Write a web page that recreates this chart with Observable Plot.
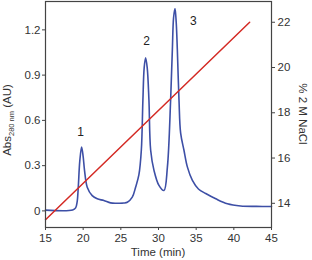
<!DOCTYPE html>
<html>
<head>
<meta charset="utf-8">
<script src="https://cdn.jsdelivr.net/npm/d3@7"></script>
<script src="https://cdn.jsdelivr.net/npm/@observablehq/plot@0.6"></script>
<style>
  html, body { margin: 0; padding: 0; background: #fff; }
  #chart svg { display: block; }
</style>
</head>
<body>
<div id="chart"></div>
<script>
// Chromatogram (absorbance at 280 nm vs time)
const time = [15, 18.6, 19.0, 19.2, 19.35, 19.55, 19.79, 20.0, 20.18, 20.54, 21.2, 21.87, 22.75, 23.64, 24.53, 25.4, 25.86, 26.52, 26.96, 27.4, 27.72, 27.93, 28.1, 28.29, 28.5, 28.73, 28.96, 29.4, 30.06, 30.72, 31.18, 31.61, 31.84, 32.0, 32.19, 32.35, 32.5, 32.72, 32.94, 33.38, 33.84, 34.5, 35.3, 36.27, 37.6, 39.15, 40.9, 43.0, 45];
const absorbance = [0.005, 0.006, 0.02, 0.06, 0.157, 0.33, 0.424, 0.36, 0.269, 0.157, 0.101, 0.08, 0.069, 0.053, 0.051, 0.052, 0.057, 0.091, 0.157, 0.24, 0.402, 0.735, 0.95, 1.015, 0.95, 0.735, 0.402, 0.269, 0.169, 0.135, 0.29, 0.735, 1.069, 1.28, 1.342, 1.25, 1.069, 0.735, 0.515, 0.402, 0.29, 0.202, 0.145, 0.115, 0.08, 0.047, 0.033, 0.03, 0.029];

// Salt gradient (% 2 M NaCl)
const gradientTime = [15, 42.1];
const gradientNaCl = [13.27, 22.0];

// Peak labels
const peakNames = ["1", "2", "3"];
const peakTime = [19.65, 28.42, 34.62];
const peakAbs = [0.525, 1.125, 1.26];

// Axis ticks
const xTicks = [15, 20, 25, 30, 35, 40, 45];
const yTicks = [0, 0.3, 0.6, 0.9, 1.2];
const rightTicks = [14, 16, 18, 20, 22];

// linear link between the two y axes
const toAbs = r => 0.0504 + (r - 14) * 0.15;
const toNaCl = a => 14 + (a - 0.0504) / 0.15;

const curve = time.map((t, i) => ({t, a: absorbance[i]}));
const gradient = gradientTime.map((t, i) => ({t, a: toAbs(gradientNaCl[i])}));
const peaks = peakNames.map((n, i) => ({n, t: peakTime[i], a: peakAbs[i]}));

const font = "'Liberation Sans', Arial, sans-serif";

const chart = Plot.plot({
  width: 312,
  height: 260,
  marginLeft: 45,
  marginRight: 41,
  marginTop: 1,
  marginBottom: 33,
  style: {fontFamily: font, fontSize: "11.5px", color: "#333", background: "#fff"},
  x: {domain: [15, 45]},
  y: {domain: [-0.11, 1.388]},
  marks: [
    Plot.line(curve, {x: "t", y: "a", stroke: "#3d4fa6", strokeWidth: 1.6, curve: "catmull-rom"}),
    Plot.line(gradient, {x: "t", y: "a", stroke: "#d42a24", strokeWidth: 1.5}),
    Plot.text(peaks, {x: "t", y: "a", text: "n", fill: "#222", fontSize: 12}),
    Plot.frame({stroke: "#444", strokeWidth: 1.2}),
    Plot.axisX({ticks: xTicks, tickSize: 3, tickPadding: 3, label: null, stroke: "#444", fill: "#333"}),
    Plot.axisY({ticks: yTicks, tickSize: 3, tickPadding: 2, tickFormat: d => d === 0 ? "0" : d.toFixed(1), label: null, stroke: "#444", fill: "#333"}),
    Plot.axisY({anchor: "right", ticks: rightTicks.map(toAbs), tickFormat: d => String(Math.round(toNaCl(d))), tickSize: 3, tickPadding: 3, label: null, stroke: "#444", fill: "#333"})
  ]
});

document.getElementById("chart").appendChild(chart);

// Axis titles
const svg = d3.select(chart);
svg.append("text")
  .attr("x", 158).attr("y", 256)
  .attr("text-anchor", "middle")
  .attr("font-family", font).attr("font-size", 11.5).attr("fill", "#333")
  .text("Time (min)");

const left = svg.append("text")
  .attr("transform", "translate(11,120) rotate(-90)")
  .attr("text-anchor", "middle")
  .attr("font-family", font).attr("font-size", 11.5).attr("fill", "#333");
left.append("tspan").text("Abs");
left.append("tspan").attr("font-size", 7.5).attr("dy", 3).text("280 nm");
left.append("tspan").attr("dy", -3).text(" (AU)");

svg.append("text")
  .attr("transform", "translate(299,114) rotate(90)")
  .attr("text-anchor", "middle")
  .attr("font-family", font).attr("font-size", 11.5).attr("fill", "#333")
  .text("% 2 M NaCl");
</script>
</body>
</html>
